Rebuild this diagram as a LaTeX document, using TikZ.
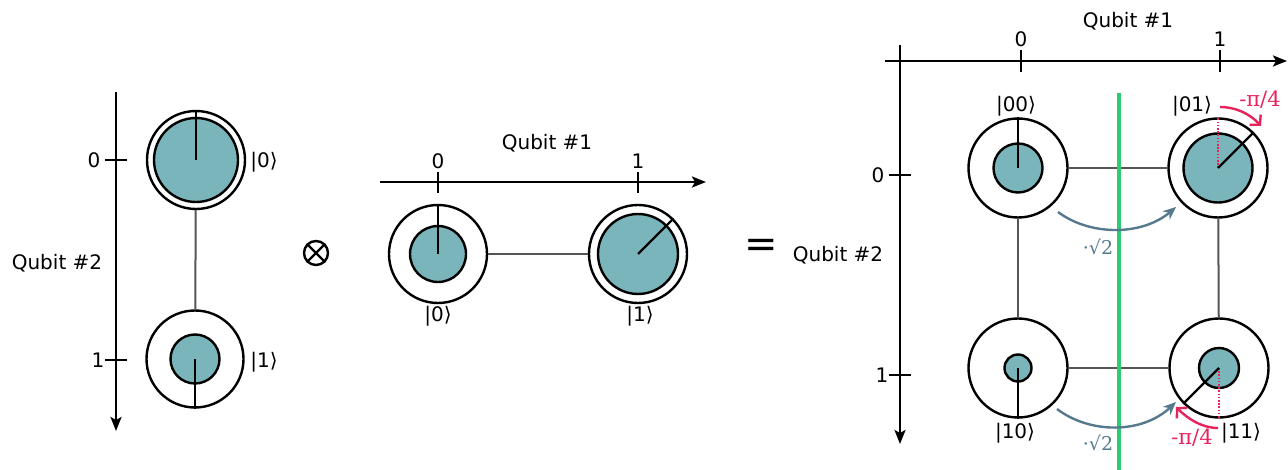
\documentclass[tikz,border=0pt]{standalone}
\usepackage{fontspec}
\setmainfont{DejaVu Sans}
\newfontfamily\serifsym{DejaVu Serif}
\usetikzlibrary{arrows.meta}

\definecolor{amp}{HTML}{79B5BA}
\definecolor{link}{HTML}{555555}
\definecolor{phase}{HTML}{E8225A}
\definecolor{scale}{HTML}{56798D}
\definecolor{cut}{HTML}{2DCC70}

\tikzset{
  axis/.style={line width=2.4pt, -{Stealth[length=14pt,width=11pt,inset=3pt]}},
  tick/.style={line width=2.4pt},
  lbl/.style={font=\fontsize{20}{22}\selectfont, inner sep=0pt},
  ket/.style={font=\fontsize{20}{22}\selectfont, inner sep=0pt},
  outer/.style={circle, draw, line width=2.4pt, fill=white, inner sep=0pt, minimum size=#1},
  inner/.style={circle, draw, line width=2.4pt, fill=amp, inner sep=0pt, minimum size=#1},
  radius/.style={line width=2.4pt},
  link/.style={draw=link, line width=2pt},
  phasearc/.style={draw=phase, line width=2.4pt, -{Straight Barb[length=7pt,width=15pt,line width=2.4pt]}},
  phasemark/.style={draw=phase, line width=2pt, dash pattern=on 1.6pt off 1.6pt},
  phaselbl/.style={text=phase, font=\serifsym\fontsize{21}{23}\selectfont, inner sep=0pt},
  scalearc/.style={draw=scale, line width=2.4pt, -{Stealth[length=13pt,width=11pt]}},
  scalelbl/.style={text=scale, font=\serifsym\fontsize{19}{21}\selectfont, inner sep=0pt},
}

\begin{document}
\begin{tikzpicture}[x=1pt,y=-1pt]
\useasboundingbox (0,0) rectangle (1288,470);

% ---------- Qubit #2 on its own ----------
\coordinate (a2s) at (116,92);
\coordinate (a2e) at (116,431);
\draw[axis] (a2s) -- (a2e);
\coordinate (t20a) at (105,160); \coordinate (t20b) at (127,160);
\coordinate (t21a) at (105,360); \coordinate (t21b) at (127,360);
\draw[tick] (t20a) -- (t20b);
\draw[tick] (t21a) -- (t21b);
\node[lbl] (l20) at (94,160) {0};
\node[lbl] (l21) at (98,360) {1};
\node[lbl] (q2a) at (57,263) {Qubit \#2};

\node[outer=98pt] (p0) at (196,160) {};
\node[outer=97pt] (p1) at (195,359) {};
\draw[link] (p0) -- (p1);
\node[inner=84pt] (p0i) at (p0.center) {};
\node[inner=49pt] (p1i) at (p1.center) {};
\draw[radius] (p0.center) -- (p0.north);
\draw[radius] (p1.center) -- (p1.south);
\node[ket] (k0) at (264,162) {|0⟩};
\node[ket] (k1) at (264,362) {|1⟩};

% ---------- tensor product ----------
\node[circle, draw, line width=2.4pt, minimum size=24pt, inner sep=0pt] (otimes) at (316,253) {};
\draw[line width=2.4pt] (otimes.45) -- (otimes.225);
\draw[line width=2.4pt] (otimes.135) -- (otimes.315);

% ---------- Qubit #1 on its own ----------
\coordinate (a1s) at (380,182);
\coordinate (a1e) at (706,182);
\draw[axis] (a1s) -- (a1e);
\coordinate (t10a) at (438,172); \coordinate (t10b) at (438,193);
\coordinate (t11a) at (638,172); \coordinate (t11b) at (638,193);
\draw[tick] (t10a) -- (t10b);
\draw[tick] (t11a) -- (t11b);
\node[lbl] (l10) at (438,161) {0};
\node[lbl] (l11) at (638,161) {1};
\node[lbl] (q1a) at (547,143) {Qubit \#1};

\node[outer=98pt] (m0) at (438,254) {};
\node[outer=98pt] (m1) at (638,254) {};
\draw[link] (m0) -- (m1);
\node[inner=56pt] (m0i) at (m0.center) {};
\node[inner=80pt] (m1i) at (m1.center) {};
\draw[radius] (m0.center) -- (m0.north);
\draw[radius] (m1.center) -- (m1.45);
\node[ket] (mk0) at (438,316) {|0⟩};
\node[ket] (mk1) at (640,316) {|1⟩};

% ---------- equals ----------
\node[font=\fontsize{40}{42}\selectfont, inner sep=0pt] (eq) at (761,248) {=};

% ---------- two-qubit state ----------
\coordinate (bxs) at (885,61);
\coordinate (bxe) at (1287,61);
\draw[axis] (bxs) -- (bxe);
\coordinate (bys) at (900,45);
\coordinate (bye) at (900,444);
\draw[axis] (bys) -- (bye);
\coordinate (bt0a) at (1021,50); \coordinate (bt0b) at (1021,72);
\coordinate (bt1a) at (1220,50); \coordinate (bt1b) at (1220,72);
\draw[tick] (bt0a) -- (bt0b);
\draw[tick] (bt1a) -- (bt1b);
\coordinate (bv0a) at (889,175); \coordinate (bv0b) at (911,175);
\coordinate (bv1a) at (889,375); \coordinate (bv1b) at (911,375);
\draw[tick] (bv0a) -- (bv0b);
\draw[tick] (bv1a) -- (bv1b);
\node[lbl] (bl0) at (1021,39) {0};
\node[lbl] (bl1) at (1220,39) {1};
\node[lbl] (bq1) at (1128,21) {Qubit \#1};
\node[lbl] (bv0) at (878,175) {0};
\node[lbl] (bv1) at (882,375) {1};
\node[lbl] (bq2) at (838,255) {Qubit \#2};

\node[outer=99pt] (s00) at (1018,168) {};
\node[outer=99pt] (s01) at (1218,168) {};
\node[outer=99pt] (s10) at (1018,368) {};
\node[outer=99pt] (s11) at (1219,368) {};
\draw[link] (s00) -- (s01);
\draw[link] (s10) -- (s11);
\draw[link] (s00) -- (s10);
\draw[link] (s01) -- (s11);

% measurement cut on qubit #1
\coordinate (cuts) at (1119,93);
\coordinate (cute) at (1119,470);
\draw[draw=cut, line width=4pt] (cuts) -- (cute);

\node[inner=49pt] (s00i) at (s00.center) {};
\node[inner=69pt] (s01i) at (s01.center) {};
\node[inner=27pt] (s10i) at (s10.center) {};
\node[inner=40pt] (s11i) at (s11.center) {};

\draw[phasemark] (s01.center) -- (s01.north);
\draw[phasemark] (s11.center) -- (s11.south);
\draw[radius] (s00.center) -- (s00.north);
\draw[radius] (s01.center) -- (s01.45);
\draw[radius] (s10.center) -- (s10.south);
\draw[radius] (s11.center) -- (s11.225);

\node[ket] (k00) at (1016,106) {|00⟩};
\node[ket] (k01) at (1192,106) {|01⟩};
\node[ket] (k10) at (1015,433) {|10⟩};
\node[ket] (k11) at (1241,433) {|11⟩};

% amplitude scaling arrows
\coordinate (sa0) at (1058,212); \coordinate (sb0) at (1176,207);
\coordinate (sa1) at (1057,409); \coordinate (sb1) at (1176,402);
\draw[scalearc] (sa0) .. controls (1090,236) and (1142,236) .. (sb0);
\draw[scalearc] (sa1) .. controls (1090,434) and (1142,434) .. (sb1);
\node[scalelbl] (sq0) at (1098,247) {·√2};
\node[scalelbl] (sq1) at (1098,443) {·√2};

% phase rotation arrows
\coordinate (pa0) at (1220,107); \coordinate (pb0) at (1261,126);
\coordinate (pa1) at (1218,428); \coordinate (pb1) at (1176,407);
\draw[phasearc] (pa0) .. controls (1236,107) and (1250,114) .. (pb0);
\draw[phasearc] (pa1) .. controls (1202,428) and (1188,419) .. (pb1);
\node[phaselbl] (pl0) at (1260,100) {-π/4};
\node[phaselbl] (pl1) at (1192,438) {-π/4};

\end{tikzpicture}
\end{document}
